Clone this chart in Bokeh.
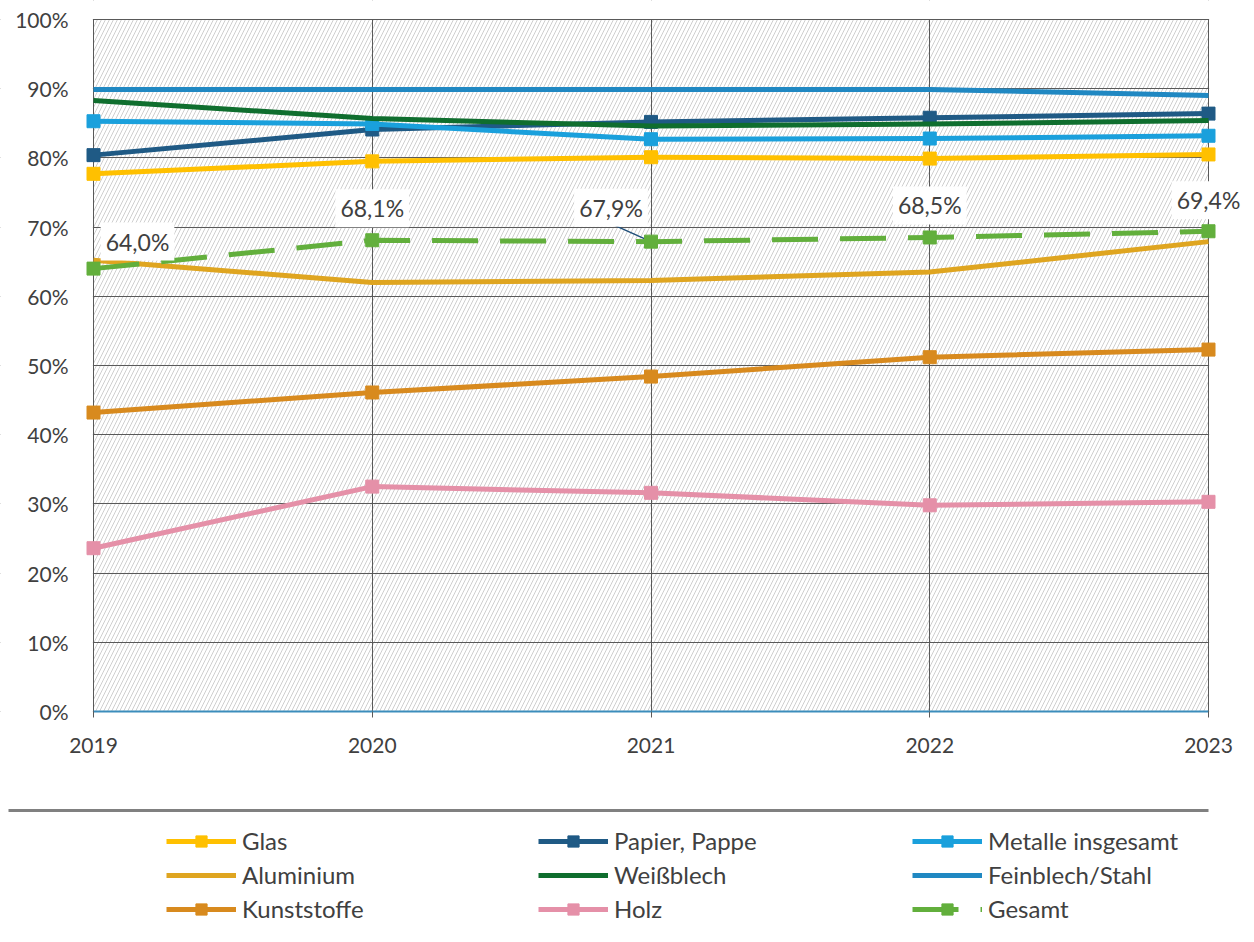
from bokeh.plotting import figure
from bokeh.models import Range1d, BoxAnnotation, Label, Legend, LegendItem, FixedTicker, PrintfTickFormatter
from bokeh.embed import file_html
from bokeh.resources import INLINE

# ---------------- data ----------------
years = [2019, 2020, 2021, 2022, 2023]
glas = [77.7, 79.5, 80.1, 79.9, 80.5]
papier = [80.4, 84.1, 85.2, 85.8, 86.4]
metalle = [85.3, 84.9, 82.7, 82.8, 83.2]
aluminium = [65.2, 62.0, 62.3, 63.5, 67.9]
weissblech = [88.3, 85.7, 84.6, 84.9, 85.4]
feinblech = [89.9, 89.9, 89.9, 89.9, 89.0]
kunststoffe = [43.2, 46.1, 48.4, 51.2, 52.3]
holz = [23.6, 32.5, 31.6, 29.8, 30.3]
gesamt = [64.0, 68.1, 67.9, 68.5, 69.4]
y_ticks = [0, 10, 20, 30, 40, 50, 60, 70, 80, 90, 100]

series = [
    ("Glas", glas, "#FFC000", True, "solid"),
    ("Papier, Pappe", papier, "#1F5A85", True, "solid"),
    ("Metalle insgesamt", metalle, "#1AA0DC", True, "solid"),
    ("Aluminium", aluminium, "#DFA520", False, "solid"),
    ("Weißblech", weissblech, "#0F6E2E", False, "solid"),
    ("Feinblech/Stahl", feinblech, "#2088C2", False, "solid"),
    ("Kunststoffe", kunststoffe, "#D88A1E", True, "solid"),
    ("Holz", holz, "#E590A8", True, "solid"),
    ("Gesamt", gesamt, "#62AF3C", True, "46 22"),
]

FONT = "Lato"
TXT = "#404040"
GRID = "#595959"

# ---------------- layout geometry (screen pixels) ----------------
W, H = 1246, 934
X_FIRST_PX, X_LAST_PX = 93, 1208      # where first / last year sit
Y_TOP_PX, Y_ZERO_PX = 19, 711         # where 100% / 0% sit
ppy = (X_LAST_PX - X_FIRST_PX) / (years[-1] - years[0])
ppp = (Y_ZERO_PX - Y_TOP_PX) / (y_ticks[-1] - y_ticks[0])


def dx(px):
    return years[0] + (px - X_FIRST_PX) / ppy


def dy(py):
    return y_ticks[0] + (Y_ZERO_PX - py) / ppp


p = figure(width=W, height=H,
           x_range=Range1d(dx(0), dx(W)), y_range=Range1d(dy(H), dy(0)),
           output_backend="svg", toolbar_location=None, min_border=0)
p.outline_line_color = None
p.background_fill_color = "white"
p.border_fill_color = "white"

# hatched plot area
p.add_layout(BoxAnnotation(left=years[0], right=years[-1], bottom=y_ticks[0], top=y_ticks[-1],
                           fill_color="white", fill_alpha=1.0, line_color=None,
                           hatch_pattern="/", hatch_color="#CFCFCF", hatch_scale=8,
                           hatch_weight=1, level="image"))

p.xgrid.ticker = FixedTicker(ticks=years)
p.ygrid.ticker = FixedTicker(ticks=y_ticks)
p.grid.grid_line_color = GRID
p.grid.grid_line_width = 1

# white covers that trim the grid to the plot rectangle
cover = dict(fill_color="white", fill_alpha=1.0, line_color=None, level="underlay")
p.add_layout(BoxAnnotation(right=dx(X_FIRST_PX - 0.6), **cover))
p.add_layout(BoxAnnotation(left=dx(X_LAST_PX + 0.6), **cover))
p.add_layout(BoxAnnotation(top=dy(Y_ZERO_PX + 1.5), **cover))
p.add_layout(BoxAnnotation(bottom=dy(Y_TOP_PX - 0.6), **cover))

xa = p.xaxis[0]
xa.fixed_location = y_ticks[0]
xa.ticker = FixedTicker(ticks=years)
xa.bounds = (years[0], years[-1])
xa.axis_line_color = "#3C8DBC"
xa.axis_line_width = 2
xa.major_tick_out = 6
xa.major_tick_in = 0
xa.major_tick_line_color = GRID
xa.minor_tick_line_color = None
xa.major_label_standoff = 20
xa.major_label_text_font = FONT
xa.major_label_text_font_size = "21px"
xa.major_label_text_color = TXT

ya = p.yaxis[0]
ya.fixed_location = years[0]
ya.ticker = FixedTicker(ticks=y_ticks)
ya.formatter = PrintfTickFormatter(format="%d%%")
ya.axis_line_color = None
ya.major_tick_line_color = None
ya.minor_tick_line_color = None
ya.major_tick_out = 0
ya.major_tick_in = 0
ya.major_label_standoff = 25
ya.major_label_text_font = FONT
ya.major_label_text_font_size = "21px"
ya.major_label_text_color = TXT

# leader line for the 2021 label
p.segment(x0=[years[2]], y0=[gesamt[2]],
          x1=[years[2] - 38 / ppy], y1=[gesamt[2] + 17 / ppp],
          line_color="#1F4E79", line_width=1.5)

renderers = {}
for name, vals, color, marker, dash in series:
    rs = [p.line(years, vals, line_color=color, line_width=5, line_dash=dash, line_join="round")]
    if marker:
        rs.append(p.scatter(years, vals, marker="square", size=13,
                            fill_color=color, line_color=color))
    renderers[name] = rs

# data labels for Gesamt
label_dx = [44, 0, -40, 0, 0]
label_dy = [27, 32, 34, 32, 31]
for x, y, ox, oy in zip(years, gesamt, label_dx, label_dy):
    p.add_layout(Label(x=x, y=y, x_offset=ox, y_offset=oy,
                       text=f"{y:.1f}%".replace(".", ","),
                       text_align="center", text_baseline="middle",
                       text_font=FONT, text_font_size="23px", text_color=TXT,
                       background_fill_color="white", background_fill_alpha=1.0,
                       padding=5))

# separator rule above the legend
p.segment(x0=[dx(8)], y0=[dy(810)], x1=[dx(1208)], y1=[dy(810)],
          line_color="#808080", line_width=3)

# legend: three columns, row-major order
items = [LegendItem(label=name, renderers=renderers[name]) for name, *_ in series]
col_px = [166, 538, 912]
legend_bottom_px = 923
for c in range(3):
    leg = Legend(items=items[c::3], location=(col_px[c], H - legend_bottom_px),
                 orientation="vertical",
                 glyph_width=70, glyph_height=28, label_standoff=6, spacing=5,
                 padding=0, margin=0, border_line_color=None, background_fill_alpha=0,
                 label_text_font=FONT, label_text_font_size="24px", label_text_color=TXT)
    p.add_layout(leg)

open("out.html", "w").write(file_html(p, INLINE))
